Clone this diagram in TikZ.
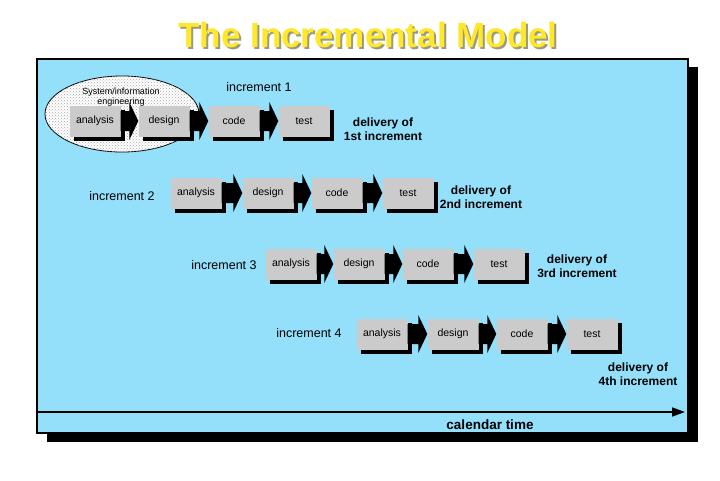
\documentclass[tikz,border=0pt]{standalone}
\usepackage{fontspec}
\setmainfont{Liberation Sans}
\usetikzlibrary{calc,shadows,patterns,arrows.meta}
\definecolor{panel}{HTML}{94E0FA}
\definecolor{boxgray}{HTML}{CBCBCB}
\definecolor{titley}{HTML}{FFE82A}
\definecolor{titles}{HTML}{9A9A80}
\newcommand{\blockarrow}[2]{%
  \fill[black] let \p1=(#1.east), \p2=(#2.west) in
    (\x1,{\y1+10pt}) -- ({\x2-9pt},{\y1+10pt}) -- ({\x2-9pt},{\y1+19pt}) --
    (\x2,\y1) -- ({\x2-9pt},{\y1-19pt}) -- ({\x2-9pt},{\y1-10pt}) --
    (\x1,{\y1-10pt}) -- cycle;}
\newcommand{\shadowtitle}[1]{\rlap{\hspace{2pt}\raisebox{-2pt}{\color{titles}#1}}{\color{titley}#1}}
\begin{document}
\begin{tikzpicture}[x=1pt,y=-1pt,
  stage/.style={rectangle,fill=boxgray,minimum width=51pt,minimum height=31pt,
    inner sep=0pt,font=\fontsize{10.5}{12}\selectfont,
    drop shadow={shadow xshift=4pt,shadow yshift=-4pt,fill=black,opacity=1}},
  inclabel/.style={font=\fontsize{12.5}{14}\selectfont},
  deliv/.style={font=\bfseries\fontsize{12}{14}\selectfont,align=center},
]
\useasboundingbox (0,0) rectangle (720,480);
\fill[white] (0,0) rectangle (720,480);
% title
\node[font=\bfseries\fontsize{35}{40}\selectfont] (title) at (368,36) {\shadowtitle{The Incremental Model}};
% panel
\fill[black] (47,67) rectangle (698,442);
\filldraw[fill=panel,draw=black,line width=1.5pt] (37,59) rectangle (688,433);
% ellipse
\filldraw[fill=white,draw=black,line width=0.8pt] (122,114) ellipse [x radius=77, y radius=38];
\fill[pattern=crosshatch dots,pattern color=gray!70] (122,114) ellipse [x radius=77, y radius=38];
\node[font=\fontsize{9}{10}\selectfont,align=center] (sie) at (121,97) {System/information\\engineering};
% rows
\foreach \r/\y/\xa/\xd/\xc/\xt in {1/121/95/164/234/304, 2/193/196/268/337/408, 3/264/291/359/428/499, 4/334/382/453/522/592}{
  \node[stage] (a\r) at (\xa,\y) {analysis};
  \node[stage] (d\r) at (\xd,\y) {design};
  \node[stage] (c\r) at (\xc,\y) {code};
  \node[stage] (t\r) at (\xt,\y) {test};
  \blockarrow{a\r}{d\r}
  \blockarrow{d\r}{c\r}
  \blockarrow{c\r}{t\r}
}
% labels
\node[inclabel] (i1) at (259,87) {increment 1};
\node[inclabel] (i2) at (122,196) {increment 2};
\node[inclabel] (i3) at (224,265) {increment 3};
\node[inclabel] (i4) at (309,333) {increment 4};
\node[deliv] (v1) at (383,129) {delivery of\\1st increment};
\node[deliv] (v2) at (481,197) {delivery of\\2nd increment};
\node[deliv] (v3) at (577,266) {delivery of\\3rd increment};
\node[deliv] (v4) at (638,374) {delivery of\\4th increment};
% time axis
\coordinate (tA) at (36,412);
\coordinate (tB) at (685,412);
\draw[line width=1.6pt,-{Triangle[length=13pt,width=9pt]}] (tA) -- (tB);
\node[font=\bfseries\fontsize{13.5}{16}\selectfont,inner sep=1pt] (cal) at (490,425) {calendar time};
\end{tikzpicture}
\end{document}
